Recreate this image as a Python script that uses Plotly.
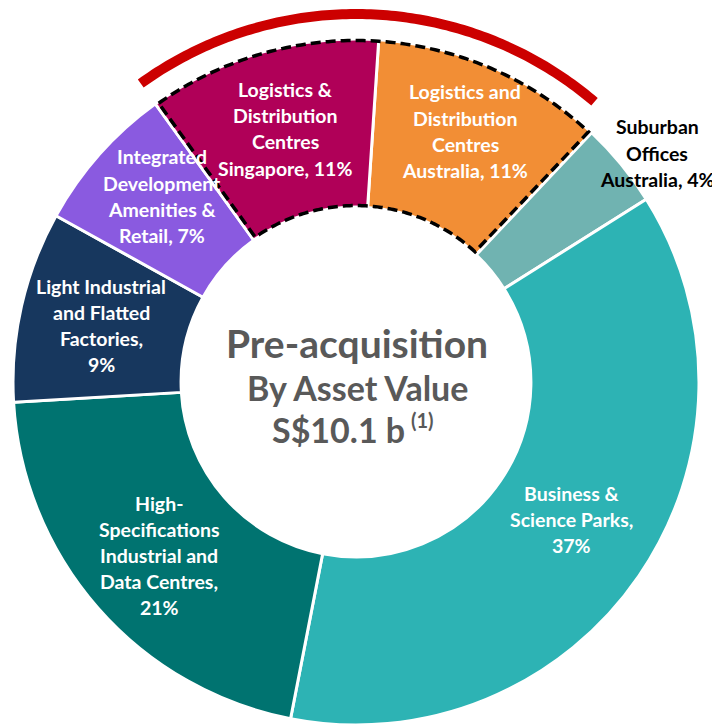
import math
import plotly.graph_objects as go

# The page body has an 8px margin, so the figure is placed at (8, 8) in the window.
OX, OY = 8, 8
W, H = 712, 717

# ---- data ----
segments = [
    "Logistics and Distribution Centres Australia",
    "Suburban Offices Australia",
    "Business & Science Parks",
    "High-Specifications Industrial and Data Centres",
    "Light Industrial and Flatted Factories",
    "Integrated Development Amenities & Retail",
    "Logistics & Distribution Centres Singapore",
]
shares = [11, 4, 37, 21, 9, 7, 11]
label_lines = [
    ["Logistics and", "Distribution", "Centres", "Australia, 11%"],
    ["Suburban", "Offices", "Australia, 4%"],
    ["Business &", "Science Parks,", "37%"],
    ["High-", "Specifications", "Industrial and", "Data Centres,", "21%"],
    ["Light Industrial", "and Flatted", "Factories,", "9%"],
    ["Integrated", "Development", "Amenities &", "Retail, 7%"],
    ["Logistics &", "Distribution", "Centres", "Singapore, 11%"],
]
colors = ["#F28E35", "#70B3B1", "#2DB3B4", "#007370", "#17375E", "#8A5AE0", "#B00058"]
label_colors = ["white", "black", "white", "white", "white", "white", "white"]
label_pos = [(465, 131), (657, 153), (571, 519), (159, 555), (101, 325), (162, 196), (285, 129)]
center_lines = ["Pre-acquisition", "By Asset Value", "S$10.1 b", "(1)"]

# ---- geometry (window pixels) ----
CX, CY, R = 356, 382, 343
HOLE = 0.51
r_in = R * HOLE
ROT = 3.8

def px2paper(x, y):
    return (x - OX) / W, 1 - (y - OY) / H

x0, _ = px2paper(CX - R, 0)
x1, _ = px2paper(CX + R, 0)
_, ytop = px2paper(0, CY - R)
_, ybot = px2paper(0, CY + R)

fig = go.Figure(go.Pie(
    labels=segments, values=shares, sort=False, direction="clockwise",
    rotation=ROT, hole=HOLE, textinfo="none", hoverinfo="label+percent",
    marker=dict(colors=colors, line=dict(color="white", width=3)),
    domain=dict(x=[x0, x1], y=[max(0, ybot), ytop]),
    showlegend=False,
))

def pt(angle_deg, rad):
    a = math.radians(angle_deg)
    return CX + rad * math.sin(a), CY - rad * math.cos(a)

total = sum(shares)
starts, acc = [], ROT
for v in shares:
    starts.append(acc)
    acc += v / total * 360
ends = [s + v / total * 360 for s, v in zip(starts, shares)]

def path_from(points, close=False):
    s = ""
    for i, (x, y) in enumerate(points):
        xp, yp = px2paper(x, y)
        s += ("M" if i == 0 else "L") + f"{xp:.5f},{yp:.5f} "
    if close:
        s += "Z"
    return s

# dashed outline around the two logistics segments
a1 = starts[6] - 360  # start of Singapore segment
a2 = ends[0]          # end of Australia segment
pts = []
n = 120
ro, ri = R - 1.5, r_in + 1.5
off = 3.0
for i in range(n + 1):
    a = (a1 + math.degrees(off / ro)) + (a2 - a1 - math.degrees(2 * off / ro)) * i / n
    pts.append(pt(a, ro))
for i in range(n + 1):
    a = (a2 - math.degrees(off / ri)) - (a2 - a1 - math.degrees(2 * off / ri)) * i / n
    pts.append(pt(a, ri))
fig.add_shape(type="path", xref="paper", yref="paper", path=path_from(pts, True),
              line=dict(color="black", width=3.5, dash="10px,5px"), layer="above")

# red highlight arc
ra = R + 25
arc = [pt(a1 + (a2 - 3 - a1) * i / n, ra) for i in range(n + 1)]
fig.add_shape(type="path", xref="paper", yref="paper", path=path_from(arc),
              line=dict(color="#CC0000", width=10), layer="above")

FONT = "Lato"
spacing = 26
for lines, (lx, ly), col in zip(label_lines, label_pos, label_colors):
    k = len(lines)
    for j, line in enumerate(lines):
        yy = ly + (j - (k - 1) / 2) * spacing
        xp, yp = px2paper(lx, yy)
        fig.add_annotation(x=xp, y=yp, xref="paper", yref="paper", text=f"<b>{line}</b>",
                           showarrow=False, xanchor="center", yanchor="middle",
                           font=dict(family=FONT, size=19.5, color=col))

center_sizes = [39, 34, 34, 20]
center_y = [343, 387, 429, 420]
center_x = [357, 357, 338, 423]
for txt, sz, yy, xx in zip(center_lines, center_sizes, center_y, center_x):
    xp, yp = px2paper(xx, yy)
    fig.add_annotation(x=xp, y=yp, xref="paper", yref="paper", text=f"<b>{txt}</b>",
                       showarrow=False, xanchor="center", yanchor="middle",
                       font=dict(family=FONT, size=sz, color="#595959"))

fig.update_layout(width=W, height=H, margin=dict(l=0, r=0, t=0, b=0),
                  paper_bgcolor="white", plot_bgcolor="white")
fig.write_html("out.html")
